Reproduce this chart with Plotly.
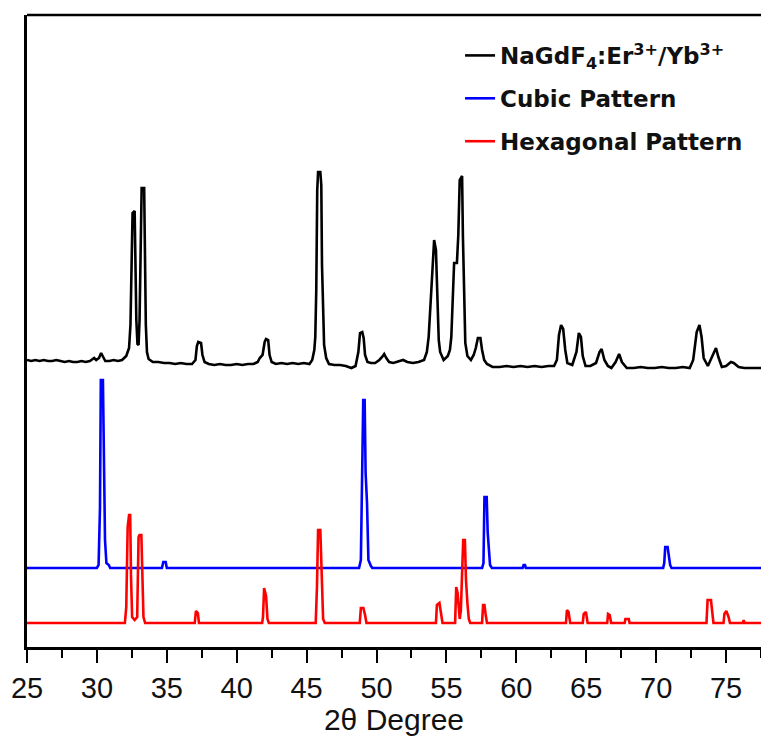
import plotly.graph_objects as go

# ---------------- data (2theta in degrees, intensity in arbitrary units) ----------------
black_2theta = [25.0, 25.3, 25.6, 25.9, 26.2, 26.5, 26.8, 27.1, 27.4, 27.7, 28.0, 28.3, 28.6, 28.9, 29.2, 29.5,
                29.7, 29.8, 29.95, 30.15, 30.3, 30.45, 30.6, 30.9, 31.2, 31.5, 31.8, 32.1, 32.3, 32.4, 32.48,
                32.55, 32.7, 32.76, 32.82, 32.9, 32.98, 33.05, 33.12, 33.2, 33.38, 33.44, 33.5, 33.58, 33.7,
                34.0, 34.4, 34.8, 35.2, 35.6, 36.0, 36.4, 36.8, 37.05, 37.15, 37.25, 37.45, 37.55, 37.7, 38.0,
                38.4, 38.8, 39.2, 39.6, 40.0, 40.4, 40.8, 41.2, 41.5, 41.65, 41.85, 42.0, 42.1, 42.25, 42.35,
                42.5, 42.8, 43.2, 43.6, 44.0, 44.4, 44.8, 45.2, 45.4, 45.55, 45.62, 45.69, 45.76, 45.82, 45.98,
                46.05, 46.1, 46.18, 46.25, 46.4, 46.6, 47.0, 47.4, 47.8, 48.2, 48.5, 48.7, 48.82, 48.98, 49.08,
                49.18, 49.35, 49.6, 49.9, 50.2, 50.4, 50.55, 50.7, 50.9, 51.2, 51.5, 51.9, 52.2, 52.6, 53.0,
                53.4, 53.6, 53.73, 53.92, 54.05, 54.12, 54.25, 54.35, 54.45, 54.55, 54.8, 55.1, 55.25, 55.35,
                55.47, 55.55, 55.75, 55.85, 55.95, 56.12, 56.18, 56.26, 56.35, 56.5, 56.75, 56.95, 57.1, 57.25,
                57.43, 57.55, 57.7, 57.9, 58.3, 58.8, 59.3, 59.8, 60.3, 60.8, 61.3, 61.8, 62.3, 62.7, 62.9,
                63.05, 63.2, 63.35, 63.5, 63.65, 64.0, 64.3, 64.47, 64.62, 64.75, 64.95, 65.3, 65.7, 65.95,
                66.1, 66.3, 66.55, 66.8, 67.1, 67.35, 67.55, 67.9, 68.4, 68.9, 69.4, 69.9, 70.4, 70.9, 71.4,
                71.9, 72.4, 72.65, 72.9, 73.1, 73.25, 73.4, 73.7, 74.05, 74.28, 74.45, 74.7, 75.0, 75.35,
                75.55, 75.9, 76.3, 76.8, 77.5]
black_intensity = [0, -1, 0, -1, 0, -1, -1, 0, -1, -2, -1, -2, -2, -1, -2, -1,
                   1, 2, 0, 2, 7, 3, -1, -1, 0, -1, 0, 4, 12, 35, 100,
                   147, 149, 80, 40, 16, 15, 40, 120, 172, 172, 93, 35, 8, 1,
                   -2, -2, -3, -3, -4, -3, -4, -4, 0, 14, 18, 17, 5, -2, -4,
                   -5, -4, -5, -5, -4, -5, -4, -4, -2, 2, 5, 18, 21, 20, 5,
                   -2, -4, -3, -4, -3, -4, -3, -4, 0, 10, 23, 70, 170, 188, 188,
                   175, 95, 40, 15, 2, -4, -5, -5, -6, -8, -6, 8, 27, 28, 22,
                   5, -2, -3, -3, 0, 3, 6, 2, -2, -3, -2, 0, -2, -3, -2,
                   0, 8, 23, 70, 110, 120, 110, 67, 20, 8, 0, 4, 10, 23,
                   63, 97, 97, 125, 180, 184, 123, 60, 17, 4, 0, 5, 12, 22,
                   22, 10, 0, -4, -7, -7, -6, -7, -6, -7, -6, -7, -6, -6, 0,
                   25, 35, 31, 10, -3, -5, 8, 27, 23, 4, -6, -6, -3, 8,
                   11, 0, -6, -8, -2, 6, -2, -8, -8, -7, -8, -8, -7, -8, -8,
                   -7, -8, 0, 28, 35, 23, 2, -6, 6, 12, 3, -7, -6, -2,
                   -3, -7, -8, -8, -8]

cubic_2theta = [25.0, 30.0, 30.12, 30.22, 30.28, 30.43, 30.48, 30.58, 30.68, 30.85, 30.95,
                34.65, 34.75, 34.92, 35.0, 48.75, 48.88, 48.97, 49.05, 49.15, 49.22, 49.32, 49.42,
                49.6, 49.7, 57.55, 57.65, 57.72, 57.88, 57.95, 58.03, 58.12, 58.25, 60.45, 60.52,
                60.62, 60.68, 70.5, 70.58, 70.65, 70.82, 70.9, 71.0, 71.1, 77.5]
cubic_intensity = [0, 0, 3, 60, 188, 188, 135, 28, 5, 3, 0,
                   0, 6, 6, 0, 0, 8, 98, 168, 168, 95, 65, 8,
                   2, 0, 0, 5, 71, 71, 36, 20, 3, 0, 0, 3,
                   3, 0, 0, 5, 21, 21, 10, 3, 0, 0]

hex_2theta = [25.0, 32.0, 32.1, 32.2, 32.3, 32.38, 32.44, 32.52, 32.7, 32.88, 32.98, 33.05, 33.18,
              33.25, 33.33, 33.45, 37.0, 37.08, 37.22, 37.3, 41.82, 41.88, 41.96, 42.1, 42.2, 42.3,
              45.65, 45.74, 45.82, 45.98, 46.04, 46.1, 46.18, 46.3, 48.8, 48.88, 49.06, 49.18, 49.28,
              54.25, 54.32, 54.5, 54.62, 54.72, 55.62, 55.7, 55.8, 55.87, 55.95, 56.03, 56.1, 56.2,
              56.32, 56.4, 56.5, 56.6, 56.7, 57.55, 57.62, 57.72, 57.8, 57.9, 63.55, 63.62, 63.74,
              63.85, 64.75, 64.82, 64.98, 65.1, 66.5, 66.56, 66.68, 66.78, 67.75, 67.8, 68.04, 68.1,
              73.6, 73.68, 73.92, 74.0, 74.1, 74.82, 74.88, 75.02, 75.18, 75.28, 76.2, 76.26, 76.32, 77.5]
hex_intensity = [0, 0, 16, 96, 108, 108, 46, 6, 3, 6, 86, 88, 88,
                 53, 6, 0, 0, 12, 10, 0, 0, 6, 35, 27, 4, 0,
                 0, 36, 93, 93, 65, 26, 4, 0, 0, 15, 15, 8, 0,
                 0, 18, 20, 10, 0, 0, 36, 30, 20, 4, 12, 52, 83,
                 83, 43, 20, 4, 0, 0, 18, 18, 9, 0, 0, 13, 11,
                 0, 0, 9, 11, 0, 0, 9, 8, 0, 0, 4, 4, 0,
                 0, 23, 23, 13, 0, 0, 9, 12, 6, 0, 0, 3, 0, 0]

series_names = ["NaGdF<sub>4</sub>:Er<sup>3+</sup>/Yb<sup>3+</sup>", "Cubic Pattern", "Hexagonal Pattern"]
x_ticks = [25, 30, 35, 40, 45, 50, 55, 60, 65, 70, 75]

# vertical stacking offsets (style)
OFFSETS = [287, 79, 24]
COLORS = ["#000000", "#0000ff", "#ff0000"]

fig = go.Figure()
all_x = [black_2theta, cubic_2theta, hex_2theta]
all_y = [black_intensity, cubic_intensity, hex_intensity]
for i in range(3):
    fig.add_trace(go.Scatter(
        x=all_x[i], y=[v + OFFSETS[i] for v in all_y[i]],
        mode="lines", name=series_names[i], legendgroup=str(i),
        line=dict(color=COLORS[i], width=2.6),
    ))

fig.update_layout(
    width=761, height=736,
    margin=dict(l=27, r=0, t=15, b=89),
    paper_bgcolor="white", plot_bgcolor="white",
    showlegend=True,
    legend=dict(x=0.59, y=0.97, xanchor="left", yanchor="top",
                font=dict(family="DejaVu Sans", size=23, color="#111111", weight="bold"),
                bgcolor="rgba(0,0,0,0)", tracegroupgap=10, traceorder="grouped",
                itemwidth=30),
    xaxis=dict(range=[25, 77.5], tickvals=x_ticks, ticks="outside", ticklen=13, tickwidth=2.2,
               tickcolor="black", showline=True, linewidth=2.6, linecolor="black",
               showgrid=False, zeroline=False,
               tickfont=dict(family="Liberation Sans", size=29, color="#111111"),
               minor=dict(dtick=2.5, tick0=25, ticks="outside", ticklen=8, tickwidth=2.2,
                          tickcolor="black", showgrid=False),
               title=dict(text="2θ Degree", standoff=2,
                          font=dict(family="Liberation Sans", size=30, color="#111111"))),
    yaxis=dict(range=[0, 632], showticklabels=False, ticks="", showline=True, linewidth=2.6,
               linecolor="black", showgrid=False, zeroline=False),
    shapes=[dict(type="line", xref="paper", yref="paper", x0=0, x1=1, y0=1, y1=1,
                 line=dict(color="black", width=2.6))],
)

fig.write_html("out.html")
